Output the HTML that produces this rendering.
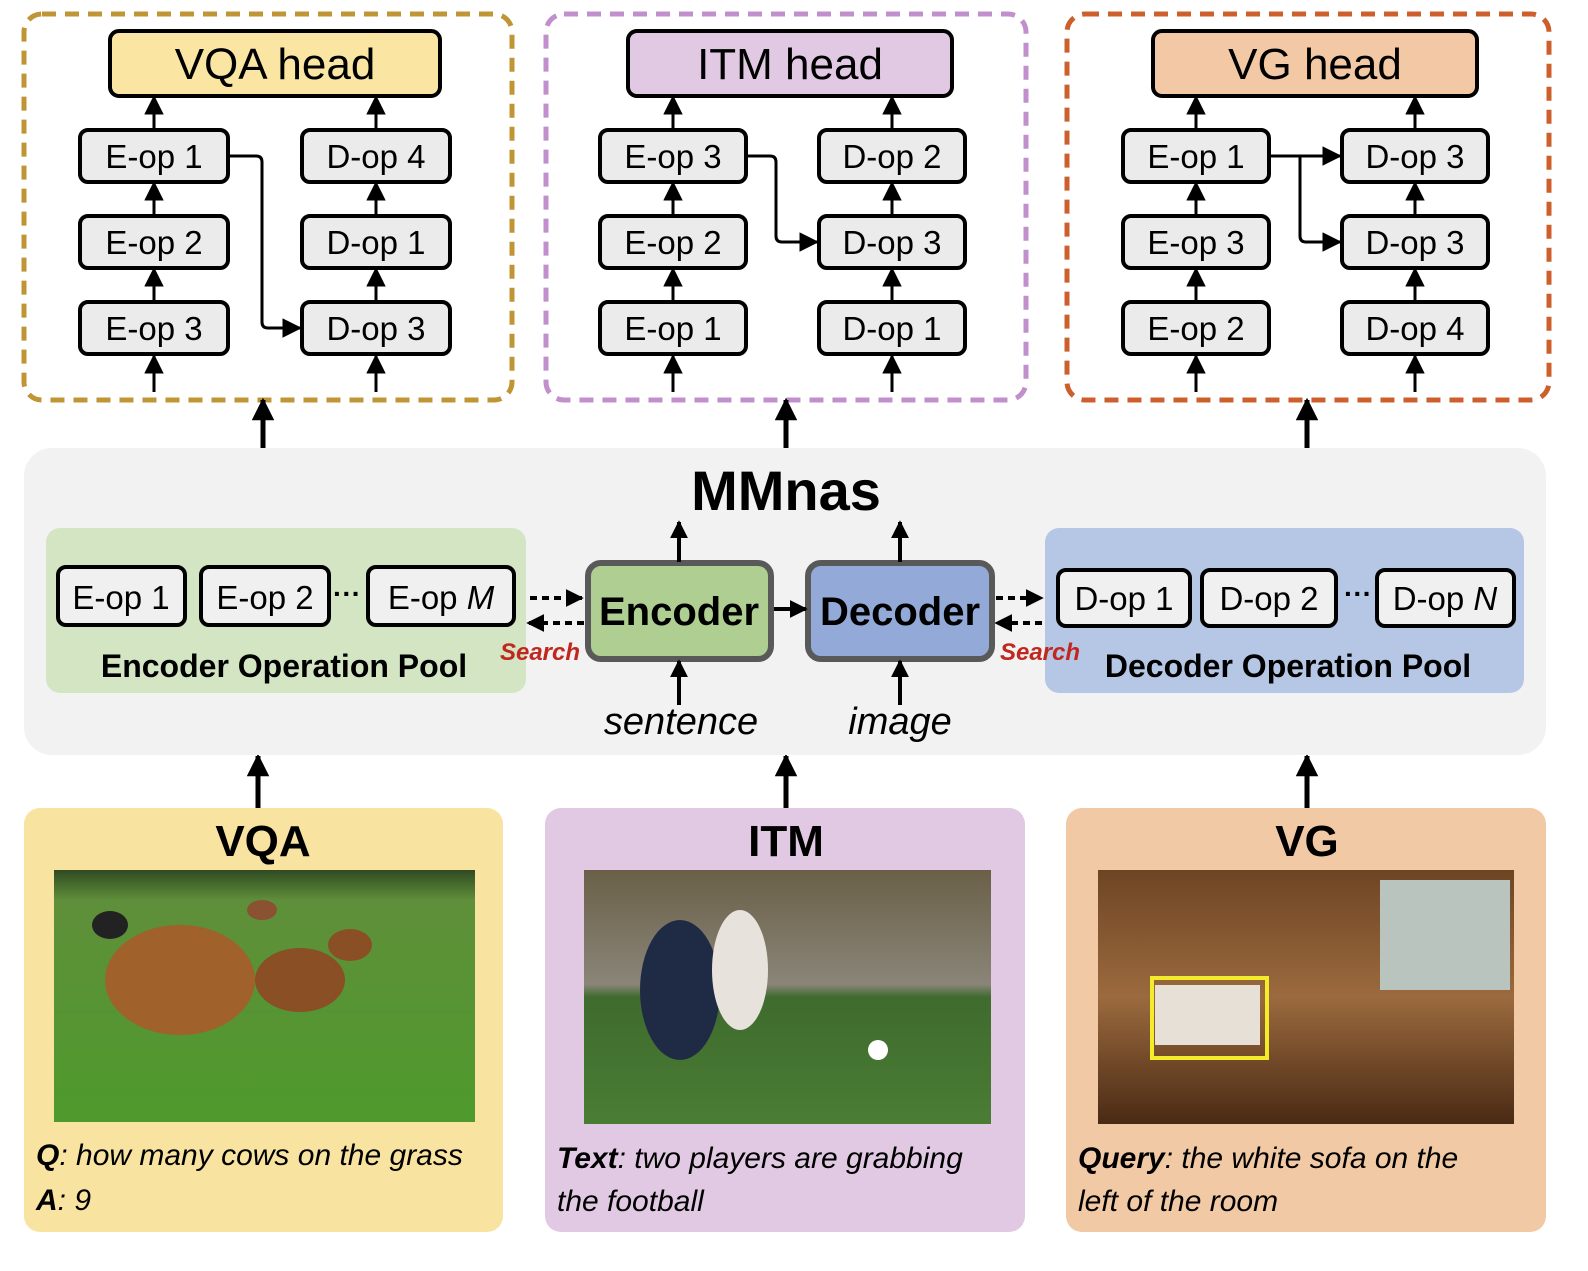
<!DOCTYPE html>
<html><head><meta charset="utf-8"><style>
body{margin:0;background:#fff}
svg text{font-family:"Liberation Sans",sans-serif}
</style></head><body>
<svg width="1588" height="1266" viewBox="0 0 1588 1266" xmlns="http://www.w3.org/2000/svg">
<defs>
<marker id="a" viewBox="0 0 10 10" refX="9" refY="5" markerWidth="6.5" markerHeight="6.5" orient="auto-start-reverse"><path d="M0,0L10,5L0,10z" fill="#000"/></marker>
<marker id="b" viewBox="0 0 10 10" refX="9" refY="5" markerWidth="4.5" markerHeight="4.5" orient="auto-start-reverse"><path d="M0,0L10,5L0,10z" fill="#000"/></marker>
<linearGradient id="g1" x1="0" y1="0" x2="0" y2="1"><stop offset="0" stop-color="#2f4a22"/><stop offset="0.12" stop-color="#5f8f3a"/><stop offset="1" stop-color="#4e9a2c"/></linearGradient>
<linearGradient id="g2" x1="0" y1="0" x2="0" y2="1"><stop offset="0" stop-color="#6a6048"/><stop offset="0.45" stop-color="#8a8578"/><stop offset="0.5" stop-color="#3f6b2e"/><stop offset="1" stop-color="#4a7d34"/></linearGradient>
<linearGradient id="g3" x1="0" y1="0" x2="0" y2="1"><stop offset="0" stop-color="#6e4524"/><stop offset="0.5" stop-color="#9b6a3e"/><stop offset="1" stop-color="#4a2a14"/></linearGradient>
</defs>

<g transform="translate(22,0)">
<rect x="2" y="14" width="488" height="386" rx="18" fill="none" stroke="#bf9535" stroke-width="5" stroke-dasharray="14,9"/>
<rect x="88" y="31" width="330" height="65" rx="9" fill="#fae5a2" stroke="#000" stroke-width="4"/>
<text x="253" y="79" font-size="44" text-anchor="middle">VQA head</text>
</g>
<g transform="translate(544,0)">
<rect x="2" y="14" width="480" height="386" rx="18" fill="none" stroke="#c18fcb" stroke-width="5" stroke-dasharray="14,9"/>
<rect x="84" y="31" width="324" height="65" rx="9" fill="#e1c9e4" stroke="#000" stroke-width="4"/>
<text x="246" y="79" font-size="44" text-anchor="middle">ITM head</text>
</g>
<g transform="translate(1065,0)">
<rect x="2" y="14" width="482" height="386" rx="18" fill="none" stroke="#cc5f2c" stroke-width="5" stroke-dasharray="14,9"/>
<rect x="88" y="31" width="324" height="65" rx="9" fill="#f2c9a4" stroke="#000" stroke-width="4"/>
<text x="250" y="79" font-size="44" text-anchor="middle">VG head</text>
</g>

<g font-size="33" text-anchor="middle">
<g transform="translate(22,0)">
<g fill="#ebebeb" stroke="#000" stroke-width="4">
<rect x="58" y="130" width="148" height="52" rx="8"/><rect x="58" y="216" width="148" height="52" rx="8"/><rect x="58" y="302" width="148" height="52" rx="8"/>
<rect x="280" y="130" width="148" height="52" rx="8"/><rect x="280" y="216" width="148" height="52" rx="8"/><rect x="280" y="302" width="148" height="52" rx="8"/>
</g>
<text x="132" y="168">E-op 1</text><text x="132" y="254">E-op 2</text><text x="132" y="340">E-op 3</text>
<text x="354" y="168">D-op 4</text><text x="354" y="254">D-op 1</text><text x="354" y="340">D-op 3</text>
<g stroke="#000" stroke-width="3" fill="none" marker-end="url(#a)">
<path d="M132,130V97"/><path d="M354,130V97"/><path d="M132,216V183"/><path d="M354,216V183"/><path d="M132,302V269"/><path d="M354,302V269"/><path d="M132,392V356"/><path d="M354,392V356"/>
<path d="M208,156H234Q240,156 240,162V322Q240,328 246,328H278"/>
</g></g>
<g transform="translate(544,0)">
<g fill="#ebebeb" stroke="#000" stroke-width="4">
<rect x="56" y="130" width="146" height="52" rx="8"/><rect x="56" y="216" width="146" height="52" rx="8"/><rect x="56" y="302" width="146" height="52" rx="8"/>
<rect x="275" y="130" width="146" height="52" rx="8"/><rect x="275" y="216" width="146" height="52" rx="8"/><rect x="275" y="302" width="146" height="52" rx="8"/>
</g>
<text x="129" y="168">E-op 3</text><text x="129" y="254">E-op 2</text><text x="129" y="340">E-op 1</text>
<text x="348" y="168">D-op 2</text><text x="348" y="254">D-op 3</text><text x="348" y="340">D-op 1</text>
<g stroke="#000" stroke-width="3" fill="none" marker-end="url(#a)">
<path d="M129,130V97"/><path d="M348,130V97"/><path d="M129,216V183"/><path d="M348,216V183"/><path d="M129,302V269"/><path d="M348,302V269"/><path d="M129,392V356"/><path d="M348,392V356"/>
<path d="M204,156H226Q232,156 232,162V236Q232,242 238,242H273"/>
</g></g>
<g transform="translate(1065,0)">
<g fill="#ebebeb" stroke="#000" stroke-width="4">
<rect x="58" y="130" width="146" height="52" rx="8"/><rect x="58" y="216" width="146" height="52" rx="8"/><rect x="58" y="302" width="146" height="52" rx="8"/>
<rect x="277" y="130" width="146" height="52" rx="8"/><rect x="277" y="216" width="146" height="52" rx="8"/><rect x="277" y="302" width="146" height="52" rx="8"/>
</g>
<text x="131" y="168">E-op 1</text><text x="131" y="254">E-op 3</text><text x="131" y="340">E-op 2</text>
<text x="350" y="168">D-op 3</text><text x="350" y="254">D-op 3</text><text x="350" y="340">D-op 4</text>
<g stroke="#000" stroke-width="3" fill="none" marker-end="url(#a)">
<path d="M131,130V97"/><path d="M350,130V97"/><path d="M131,216V183"/><path d="M350,216V183"/><path d="M131,302V269"/><path d="M350,302V269"/><path d="M131,392V356"/><path d="M350,392V356"/>
<path d="M206,156H275"/><path d="M235,156V236Q235,242 241,242H275"/>
</g></g>
</g>

<g stroke="#000" stroke-width="5" fill="none" marker-end="url(#b)">
<path d="M263,448V400"/><path d="M786,448V400"/><path d="M1307,448V400"/>
<path d="M258,808V756"/><path d="M786,808V756"/><path d="M1307,808V756"/>
</g>

<rect x="24" y="448" width="1522" height="307" rx="28" fill="#f2f2f2"/>
<text x="786" y="510" font-size="56" font-weight="bold" text-anchor="middle">MMnas</text>
<rect x="46" y="528" width="480" height="165" rx="14" fill="#d3e5c2"/>
<rect x="1045" y="528" width="479" height="165" rx="14" fill="#b5c7e5"/>
<g fill="#f0f0f0" stroke="#000" stroke-width="4">
<rect x="58" y="567" width="127" height="58" rx="8"/><rect x="201" y="567" width="128" height="58" rx="8"/><rect x="368" y="567" width="146" height="58" rx="8"/>
<rect x="1058" y="570" width="132" height="56" rx="8"/><rect x="1202" y="570" width="134" height="56" rx="8"/><rect x="1377" y="570" width="137" height="56" rx="8"/>
</g>
<g font-size="33" text-anchor="middle">
<text x="121" y="609">E-op 1</text><text x="265" y="609">E-op 2</text><text x="441" y="609">E-op <tspan font-style="italic">M</tspan></text>
<text x="1124" y="610">D-op 1</text><text x="1269" y="610">D-op 2</text><text x="1445" y="610">D-op <tspan font-style="italic">N</tspan></text>
</g>
<text x="347" y="603" font-size="28" font-weight="bold" text-anchor="middle">···</text>
<text x="1358" y="603" font-size="28" font-weight="bold" text-anchor="middle">···</text>
<text x="284" y="677" font-size="32" font-weight="bold" text-anchor="middle">Encoder Operation Pool</text>
<text x="1288" y="677" font-size="32" font-weight="bold" text-anchor="middle">Decoder Operation Pool</text>
<text x="540" y="660" font-size="24" font-weight="bold" font-style="italic" fill="#c0281f" text-anchor="middle">Search</text>
<text x="1040" y="660" font-size="24" font-weight="bold" font-style="italic" fill="#c0281f" text-anchor="middle">Search</text>
<g stroke="#000" stroke-width="4" fill="none" stroke-dasharray="7,5">
<path d="M530,598H582" marker-end="url(#b)"/><path d="M584,623H528" marker-end="url(#b)"/>
<path d="M996,598H1042" marker-end="url(#b)"/><path d="M1042,623H996" marker-end="url(#b)"/>
</g>
<rect x="588" y="563" width="183" height="96" rx="13" fill="#aecf91" stroke="#595959" stroke-width="6"/>
<rect x="808" y="563" width="184" height="96" rx="13" fill="#93aad8" stroke="#595959" stroke-width="6"/>
<text x="679" y="625" font-size="40" font-weight="bold" text-anchor="middle">Encoder</text>
<text x="900" y="625" font-size="40" font-weight="bold" text-anchor="middle">Decoder</text>
<g stroke="#000" stroke-width="4" fill="none" marker-end="url(#b)">
<path d="M774,609H806"/><path d="M679,562V522"/><path d="M900,562V522"/><path d="M679,705V661"/><path d="M900,705V661"/>
</g>
<text x="681" y="734" font-size="38" font-style="italic" text-anchor="middle">sentence</text>
<text x="900" y="734" font-size="38" font-style="italic" text-anchor="middle">image</text>

<rect x="24" y="808" width="479" height="424" rx="16" fill="#f9e3a1"/>
<rect x="545" y="808" width="480" height="424" rx="16" fill="#e1c9e4"/>
<rect x="1066" y="808" width="480" height="424" rx="16" fill="#f2c9a5"/>
<g font-size="44" font-weight="bold" text-anchor="middle">
<text x="263" y="856">VQA</text><text x="786" y="856">ITM</text><text x="1307" y="856">VG</text>
</g>
<rect x="54" y="870" width="421" height="252" fill="url(#g1)"/>
<ellipse cx="180" cy="980" rx="75" ry="55" fill="#a0612b"/><ellipse cx="300" cy="980" rx="45" ry="32" fill="#8a4f24"/>
<ellipse cx="110" cy="925" rx="18" ry="14" fill="#222"/><ellipse cx="262" cy="910" rx="15" ry="10" fill="#8a5230"/><ellipse cx="350" cy="945" rx="22" ry="16" fill="#8a4f24"/>
<rect x="584" y="870" width="407" height="254" fill="url(#g2)"/>
<ellipse cx="680" cy="990" rx="40" ry="70" fill="#1f2a44"/><ellipse cx="740" cy="970" rx="28" ry="60" fill="#e8e2dc"/><circle cx="878" cy="1050" r="10" fill="#fff"/>
<rect x="1098" y="870" width="416" height="254" fill="url(#g3)"/>
<rect x="1380" y="880" width="130" height="110" fill="#b9c4bf"/>
<rect x="1155" y="985" width="105" height="60" fill="#e6e0d6"/>
<rect x="1152" y="978" width="115" height="80" fill="none" stroke="#f2ec2a" stroke-width="4"/>
<g font-size="30" font-style="italic">
<text x="36" y="1165"><tspan font-weight="bold">Q</tspan>: how many cows on the grass</text>
<text x="36" y="1210"><tspan font-weight="bold">A</tspan>: 9</text>
<text x="557" y="1168"><tspan font-weight="bold">Text</tspan>: two players are grabbing</text>
<text x="557" y="1211">the football</text>
<text x="1078" y="1168"><tspan font-weight="bold">Query</tspan>: the white sofa on the</text>
<text x="1078" y="1211">left of the room</text>
</g>
</svg>
</body></html>
